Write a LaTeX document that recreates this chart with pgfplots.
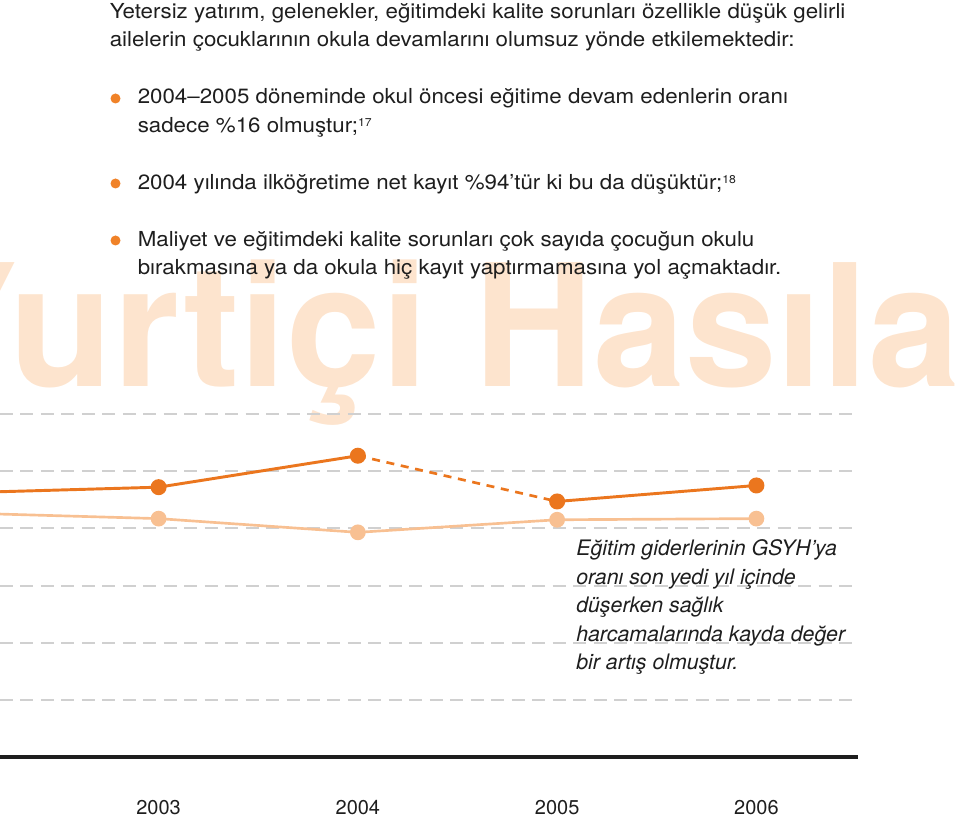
\documentclass[border=0pt]{standalone}
\usepackage{pgfplots}
\pgfplotsset{compat=1.18}
\usepackage{fontspec}
\setmainfont{TeX Gyre Heros}
\newfontfamily\widef[FakeStretch=1.08]{TeX Gyre Heros}
\newfontfamily\wmnarrow[FakeStretch=0.97]{TeX Gyre Heros}
\definecolor{darkor}{RGB}{235,118,30}
\definecolor{lightor}{RGB}{248,192,146}
\definecolor{wm}{RGB}{253,228,206}
\definecolor{bul}{RGB}{240,130,40}
\definecolor{gridg}{RGB}{208,208,208}
\definecolor{txt}{RGB}{30,30,30}
\newcommand{\mainf}{\widef\fontsize{15.5}{21.3}\selectfont}
\newcommand{\annf}{\fontsize{16}{21.3}\selectfont\itshape}
\newcommand{\sups}[1]{\raisebox{0.55ex}{\fontsize{8.5}{8.5}\selectfont #1}}
\begin{document}
\begin{tikzpicture}
\path[use as bounding box] (0,0) rectangle (720pt,613.5pt);
\clip (0,0) rectangle (720pt,613.5pt);
\begin{scope}[x=0.75pt,y=-0.75pt,yshift=613.5pt]
% watermark
\node[anchor=base east, inner sep=0, text=wm, font=\fontsize{127.5}{127.5}\bfseries\selectfont] at (429,387) {Yurtiçi};
\node[anchor=base west, inner sep=0, text=wm, font=\wmnarrow\fontsize{127.5}{127.5}\bfseries\selectfont] at (474,387) {Hasıla};
% intro text
\node[anchor=base west, inner sep=0, text=txt, font=\mainf] at (109.5,18.5) {Yetersiz yatırım, gelenekler, eğitimdeki kalite sorunları özellikle düşük gelirli};
\node[anchor=base west, inner sep=0, text=txt, font=\mainf] at (109.5,47) {ailelerin çocuklarının okula devamlarını olumsuz yönde etkilemektedir:};
\fill[bul] (115.5,98.5) circle[radius=3.75pt];
\fill[bul] (115.5,183.5) circle[radius=3.75pt];
\fill[bul] (115.5,240.5) circle[radius=3.75pt];
\node[anchor=base west, inner sep=0, text=txt, font=\mainf] at (137.5,104) {2004–2005 döneminde okul öncesi eğitime devam edenlerin oranı};
\node[anchor=base west, inner sep=0, text=txt, font=\mainf] at (137.5,132.3) {sadece \%16 olmuştur;\sups{17}};
\node[anchor=base west, inner sep=0, text=txt, font=\mainf] at (137.5,189.3) {2004 yılında ilköğretime net kayıt \%94’tür ki bu da düşüktür;\sups{18}};
\node[anchor=base west, inner sep=0, text=txt, font=\mainf] at (137.5,246.7) {Maliyet ve eğitimdeki kalite sorunları çok sayıda çocuğun okulu};
\node[anchor=base west, inner sep=0, text=txt, font=\mainf] at (137.5,275) {bırakmasına ya da okula hiç kayıt yaptırmamasına yol açmaktadır.};
\end{scope}
\begin{axis}[
  at={(0pt,45.75pt)}, anchor=south west,
  width=643.5pt, height=257.25pt, scale only axis,
  xmin=2002.204, xmax=2006.51, ymin=0, ymax=6,
  axis line style={draw=none}, tick style={draw=none},
  ytick={1,2,3,4,5,6}, yticklabels={},
  ymajorgrids,
  major grid style={line width=1.5pt, gridg, dash pattern=on 9.75pt off 5.6pt},
  xtick={2003,2004,2005,2006},
  xticklabels={2003,2004,2005,2006},
  xticklabel style={anchor=base, yshift=-42.75pt, text=txt, font=\fontsize{15}{15}\selectfont},
  clip=false,
]
\draw[txt, line width=2.3pt] (rel axis cs:0,0) -- (rel axis cs:1,0);
\addplot[lightor, line width=2pt, mark=*, mark size=4.9pt, mark options={fill=lightor, draw=none, solid}]
  coordinates {(2002,4.27) (2003,4.17) (2004,3.93) (2005,4.15) (2006,4.17)};
\addplot[darkor, line width=2pt, dash pattern=on 6pt off 5pt]
  coordinates {(2004,5.27) (2005,4.47)};
\addplot[darkor, line width=2.2pt, mark=*, mark size=4.9pt, mark options={fill=darkor, draw=none, solid}]
  coordinates {(2002,4.62) (2003,4.72) (2004,5.27)};
\addplot[darkor, line width=2.2pt, mark=*, mark size=4.9pt, mark options={fill=darkor, draw=none, solid}]
  coordinates {(2005,4.47) (2006,4.75)};
\end{axis}
\begin{scope}[x=0.75pt,y=-0.75pt,yshift=613.5pt]
\node[anchor=base west, inner sep=0, text=txt, font=\annf] at (576,556) {Eğitim giderlerinin GSYH’ya};
\node[anchor=base west, inner sep=0, text=txt, font=\annf] at (576,584.3) {oranı son yedi yıl içinde};
\node[anchor=base west, inner sep=0, text=txt, font=\annf] at (576,612.7) {düşerken sağlık};
\node[anchor=base west, inner sep=0, text=txt, font=\annf] at (576,641) {harcamalarında kayda değer};
\node[anchor=base west, inner sep=0, text=txt, font=\annf] at (576,669.3) {bir artış olmuştur.};
\end{scope}
\end{tikzpicture}
\end{document}
